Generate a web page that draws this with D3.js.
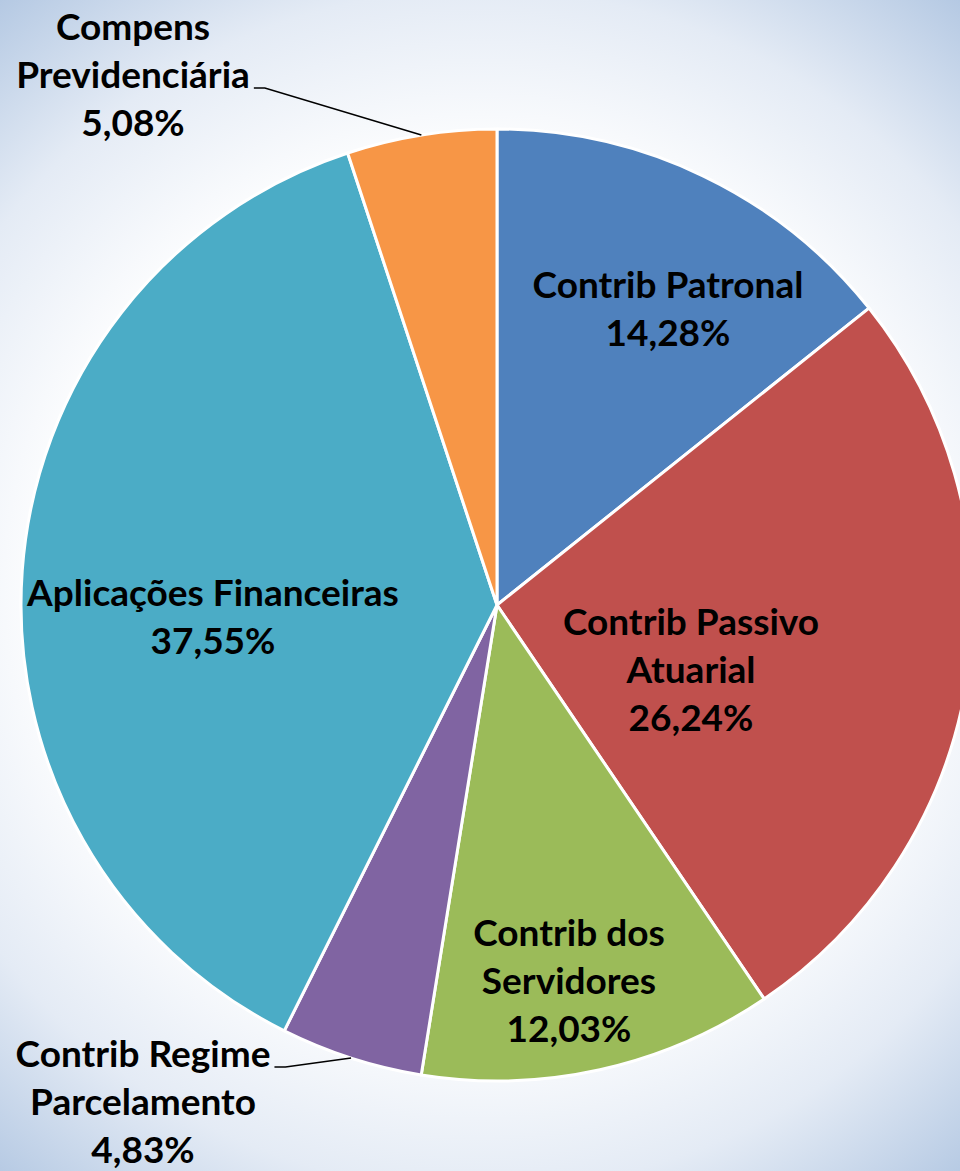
<!DOCTYPE html>
<html>
<head>
<meta charset="utf-8">
<script src="https://cdn.jsdelivr.net/npm/d3@7"></script>
<style>
  html, body { margin: 0; padding: 0; overflow: hidden; }
  text { font-family: Lato, "Open Sans", sans-serif; font-weight: 700; fill: #000; }
</style>
</head>
<body>
<svg id="chart" width="960" height="1171"></svg>
<script>
// data
const categories = [
  "Contrib Patronal",
  "Contrib Passivo Atuarial",
  "Contrib dos Servidores",
  "Contrib Regime Parcelamento",
  "Aplicações Financeiras",
  "Compens Previdenciária"
];
const shares = [14.28, 26.24, 12.03, 4.83, 37.55, 5.08];
const shareLabels = ["14,28%", "26,24%", "12,03%", "4,83%", "37,55%", "5,08%"];
const labelLines = [
  ["Contrib Patronal"],
  ["Contrib Passivo", "Atuarial"],
  ["Contrib dos", "Servidores"],
  ["Contrib Regime", "Parcelamento"],
  ["Aplicações Financeiras"],
  ["Compens", "Previdenciária"]
];
const colors = ["#4f81bd", "#c0504d", "#9bbb59", "#8064a2", "#4bacc6", "#f79646"];

// layout: x = centre, y = first baseline
const labelPos = [
  { x: 668, y: 298 },
  { x: 691, y: 635 },
  { x: 569, y: 946 },
  { x: 143, y: 1067, outside: true, lead: 0 },
  { x: 213, y: 606 },
  { x: 133, y: 40, outside: true, lead: 1 }
];

const width = 960, height = 1171;
const cx = 497, cy = 605, R = 476;
const fontSize = 37;
const lineH = 48;

const svg = d3.select("#chart");

const defs = svg.append("defs");
const grad = defs.append("radialGradient")
  .attr("id", "bg")
  .attr("gradientUnits", "userSpaceOnUse")
  .attr("cx", 480).attr("cy", 590).attr("r", 770);
grad.append("stop").attr("offset", "0").attr("stop-color", "#ffffff");
grad.append("stop").attr("offset", "0.55").attr("stop-color", "#ffffff");
grad.append("stop").attr("offset", "0.78").attr("stop-color", "#e4ebf5");
grad.append("stop").attr("offset", "1").attr("stop-color", "#b2c7e2");

svg.append("rect").attr("width", width).attr("height", height).attr("fill", "url(#bg)");

const pie = d3.pie().sort(null).value(d => d);
const arcs = pie(shares);
const arc = d3.arc().innerRadius(0).outerRadius(R);
const edgeArc = d3.arc().innerRadius(R).outerRadius(R);

const g = svg.append("g").attr("transform", `translate(${cx},${cy})`);

g.selectAll("path")
  .data(arcs)
  .enter()
  .append("path")
  .attr("d", arc)
  .attr("fill", (d, i) => colors[i])
  .attr("stroke", "#fff")
  .attr("stroke-width", 3)
  .attr("stroke-linejoin", "round");

// labels
arcs.forEach((d, i) => {
  const p = labelPos[i];
  const t = svg.append("text")
    .attr("text-anchor", "middle")
    .attr("font-size", fontSize)
    .attr("x", p.x)
    .attr("y", p.y);
  const lines = labelLines[i].concat([shareLabels[i]]);
  lines.forEach((s, k) => {
    t.append("tspan").attr("x", p.x).attr("dy", k === 0 ? 0 : lineH).text(s);
  });

  // leader line from the widest text line to the slice edge
  if (p.outside) {
    const [ex, ey] = edgeArc.centroid(d);
    const w = t.selectAll("tspan").nodes()[p.lead].getComputedTextLength();
    const x0 = p.x + w / 2 + 4;
    const y0 = p.y + p.lead * lineH;
    svg.append("path")
      .attr("d", d3.line()([[x0, y0], [x0 + 11, y0], [cx + ex, cy + ey]]))
      .attr("fill", "none")
      .attr("stroke", "#000")
      .attr("stroke-width", 1.5);
  }
});
</script>
</body>
</html>
